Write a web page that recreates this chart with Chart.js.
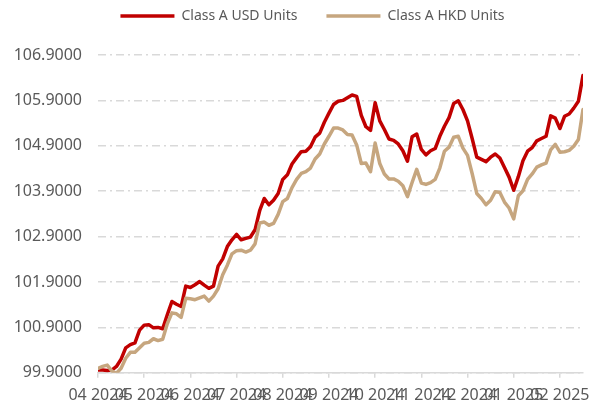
<!DOCTYPE html>
<html>
<head>
<meta charset="utf-8">
<script src="https://cdn.jsdelivr.net/npm/chart.js@4.4.1/dist/chart.umd.min.js"></script>
<style>
  html, body { margin: 0; padding: 0; background: #fff; }
  canvas { display: block; }
</style>
</head>
<body>
<canvas id="navChart" width="602" height="403"></canvas>
<script>
// axis labels, one every 10 points
const tickLabels = ['04 2024', '05 2024', '06 2024', '07 2024', '08 2024', '09 2024',
    '10 2024', '11 2024', '12 2024', '01 2025', '02 2025'];
const yTicks = [99.9, 100.9, 101.9, 102.9, 103.9, 104.9, 105.9, 106.9];

const usdUnits = [
    99.96, 99.96, 99.95, 99.96, 100.04, 100.20, 100.45, 100.52, 100.56, 100.84,
    100.95, 100.96, 100.89, 100.90, 100.87, 101.18, 101.47, 101.41, 101.36, 101.81,
    101.78, 101.84, 101.91, 101.83, 101.76, 101.81, 102.25, 102.41, 102.68, 102.83,
    102.95, 102.83, 102.86, 102.89, 103.05, 103.47, 103.74, 103.60, 103.70, 103.85,
    104.16, 104.26, 104.50, 104.64, 104.77, 104.78, 104.88, 105.09, 105.18, 105.42,
    105.62, 105.81, 105.88, 105.90, 105.96, 106.02, 105.99, 105.57, 105.32, 105.24,
    105.85, 105.45, 105.26, 105.05, 105.02, 104.94, 104.79, 104.56, 105.10, 105.16,
    104.82, 104.70, 104.79, 104.84, 105.11, 105.33, 105.52, 105.83, 105.89, 105.70,
    105.45, 105.06, 104.65, 104.60, 104.55, 104.65, 104.72, 104.63, 104.42, 104.21,
    103.92, 104.22, 104.57, 104.78, 104.86, 105.01, 105.06, 105.11, 105.56, 105.51,
    105.28, 105.55, 105.60, 105.73, 105.88, 106.45
];
const hkdUnits = [
    100.00, 100.04, 100.07, 99.94, 99.89, 100.00, 100.22, 100.35, 100.35, 100.45,
    100.55, 100.57, 100.65, 100.61, 100.64, 100.98, 101.22, 101.20, 101.12, 101.54,
    101.53, 101.51, 101.55, 101.59, 101.48, 101.59, 101.75, 102.06, 102.27, 102.52,
    102.59, 102.60, 102.56, 102.60, 102.74, 103.20, 103.22, 103.15, 103.19, 103.39,
    103.67, 103.74, 103.98, 104.16, 104.29, 104.33, 104.41, 104.61, 104.72, 104.94,
    105.11, 105.29, 105.29, 105.25, 105.15, 105.14, 104.92, 104.51, 104.52, 104.33,
    104.96, 104.51, 104.28, 104.17, 104.17, 104.12, 104.02, 103.78, 104.09, 104.38,
    104.08, 104.05, 104.09, 104.16, 104.41, 104.78, 104.87, 105.09, 105.11, 104.85,
    104.69, 104.29, 103.85, 103.74, 103.60, 103.70, 103.89, 103.87, 103.66, 103.53,
    103.29, 103.80, 103.91, 104.16, 104.28, 104.43, 104.48, 104.52, 104.81, 104.93,
    104.76, 104.77, 104.80, 104.89, 105.04, 105.70
];

const TICK_EVERY = 10;
const gridColor = '#d9d9d9';
const textColor = '#595959';

Chart.defaults.font.family = "'Noto Sans', sans-serif";
Chart.defaults.color = textColor;

// legend sits a bit right of centre and leaves a gap above the plot
const legendGap = {
    id: 'legendGap',
    afterInit: function (chart) {
        const legend = chart.legend;
        const fit = legend.fit;
        legend.fit = function () {
            fit.call(this);
            this.height = 75;
        };
    },
    afterLayout: function (chart) {
        chart.legend.left += 21;
        chart.legend.right += 21;
    }
};

const toPoints = (arr) => arr.map((v, i) => ({ x: i, y: v }));

new Chart(document.getElementById('navChart').getContext('2d'), {
    type: 'line',
    data: {
        datasets: [{
            label: 'Class A USD Units',
            data: toPoints(usdUnits),
            borderColor: '#c00000',
            backgroundColor: '#c00000',
            borderWidth: 3.5,
            order: 2
        }, {
            label: 'Class A HKD Units',
            data: toPoints(hkdUnits),
            borderColor: '#c6a67f',
            backgroundColor: '#c6a67f',
            borderWidth: 3.5,
            order: 1
        }]
    },
    options: {
        responsive: false,
        animation: false,
        elements: {
            point: { radius: 0 },
            line: { tension: 0, borderJoinStyle: 'round', borderCapStyle: 'round' }
        },
        layout: {
            padding: { top: -20, left: 0, right: 19, bottom: -10 }
        },
        plugins: {
            tooltip: { enabled: false },
            legend: {
                position: 'top',
                labels: {
                    usePointStyle: true,
                    pointStyle: 'line',
                    pointStyleWidth: 54,
                    padding: 29,
                    color: textColor,
                    font: { size: 14 },
                    sort: (a, b) => a.datasetIndex - b.datasetIndex
                }
            }
        },
        scales: {
            x: {
                type: 'linear',
                min: 0,
                max: usdUnits.length - 1,
                afterBuildTicks: function (scale) {
                    scale.ticks = tickLabels.map((_, k) => ({ value: k * TICK_EVERY }));
                },
                ticks: {
                    autoSkip: false,
                    maxRotation: 0,
                    padding: 8,
                    font: { size: 16 },
                    callback: (v) => tickLabels[v / TICK_EVERY]
                },
                grid: {
                    drawOnChartArea: false,
                    tickLength: 5,
                    color: gridColor,
                    lineWidth: 1.5
                },
                border: { color: gridColor, width: 1.5 }
            },
            y: {
                min: yTicks[0],
                max: yTicks[yTicks.length - 1],
                afterBuildTicks: function (scale) {
                    scale.ticks = yTicks.map((v) => ({ value: v }));
                },
                afterFit: function (scale) {
                    scale.width = 98;
                },
                ticks: {
                    padding: 16,
                    font: { size: 16 },
                    callback: (v) => v.toFixed(4)
                },
                grid: {
                    drawTicks: false,
                    color: gridColor,
                    lineWidth: 1.5,
                    borderDash: [8, 4, 2, 4]
                },
                border: { display: false, dash: [8, 4, 2, 4] }
            }
        }
    },
    plugins: [legendGap]
});
</script>
</body>
</html>
